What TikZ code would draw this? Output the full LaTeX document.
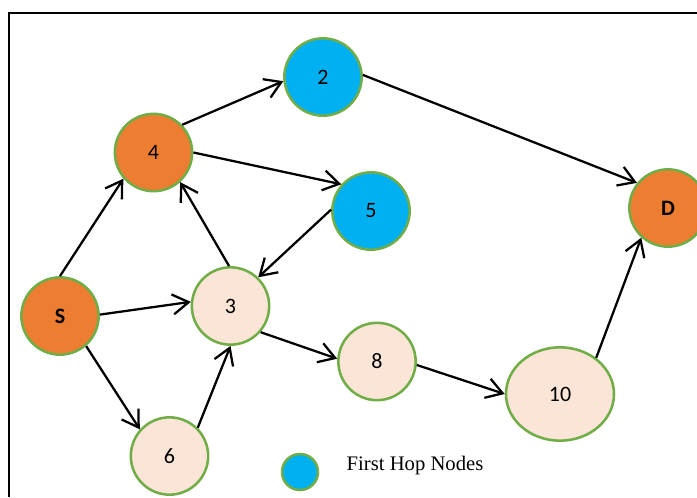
\documentclass[tikz,border=0pt]{standalone}
\usepackage{fontspec}
\setmainfont{Carlito}
\newfontfamily\legendfont{Liberation Serif}
\usepackage{xcolor}
\usepackage{tikz}
\usetikzlibrary{arrows.meta, shapes.geometric}
\definecolor{corange}{RGB}{237, 125, 49}
\definecolor{cblue}{RGB}{0, 176, 240}
\definecolor{cpeach}{RGB}{251, 229, 214}
\definecolor{cgreen}{RGB}{112, 173, 71}

\begin{document}
\begin{tikzpicture}[
  x=0.75pt, y=-0.75pt,
  hop/.style={circle, draw=cgreen, line width=1.9pt,
              minimum size=58pt, inner sep=0pt,
              font=\fontsize{16.5}{19}\selectfont},
  srcnode/.style={hop, fill=corange},
  firsthop/.style={hop, fill=cblue},
  relay/.style={hop, fill=cpeach},
  arr/.style={-{Straight Barb[length=12pt, width=15pt, line width=1.7pt]},
              line width=1.7pt}
]
  \useasboundingbox (0,0) rectangle (697,497);
  \draw[line width=1.3pt] (9,497) -- (9,13) -- (697,13);

  \node[srcnode] (S) at (60,316) {\textbf{S}};
  \node[srcnode] (n4) at (153.5,152.5) {4};
  \node[firsthop] (n2) at (323,77) {2};
  \node[firsthop] (n5) at (371,211) {5};
  \node[relay] (n3) at (230.5,306) {3};
  \node[relay] (n6) at (169.5,456) {6};
  \node[relay] (n8) at (377,361.5) {8};
  \node[relay, ellipse, minimum width=81pt, minimum height=70pt] (n10)
    at (560,394) {10};
  \node[srcnode] (D) at (668,208) {\textbf{D}};

  % legend
  \node[firsthop, minimum size=27pt] (key) at (300,472) {};
  \node[font=\legendfont\fontsize{15.5}{18}\selectfont, anchor=west]
    (keytext) at (342,466) {First Hop Nodes};

  \draw[arr] (S.90) -- (n4.221);
  \draw[arr] (S.2) -- (n3.174);
  \draw[arr] (S.311) -- (n6.138);
  \draw[arr] (n6.45) -- (n3.270);
  \draw[arr] (n3.92) -- (n4.312);
  \draw[arr] (n5.178) -- (n3.46);
  \draw[arr] (n4.44) -- (n2.186);
  \draw[arr] (n4.0) -- (n5.138);
  \draw[arr] (n2.3) -- (D.141);
  \draw[arr] (n3.319) -- (n8.176);
  \draw[arr] (n8.355) -- (n10.180);
  \draw[arr] (n10.45) -- (D.228);

\end{tikzpicture}
\end{document}
